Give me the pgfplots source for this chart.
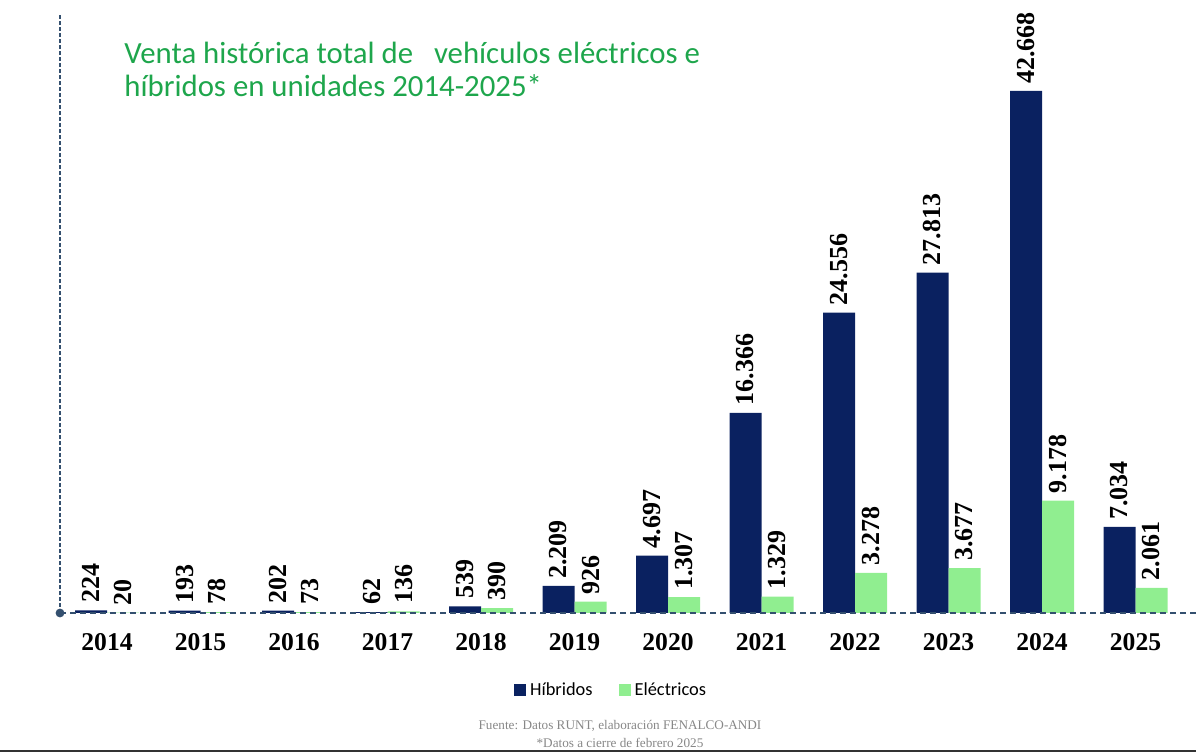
\documentclass[border=0pt]{standalone}
\usepackage{pgfplots}
\pgfplotsset{compat=1.18}
\usepackage{fontspec}
\setmainfont{Liberation Serif}
\newfontfamily\carlito{Carlito}
\definecolor{navy}{RGB}{10,33,96}
\definecolor{lgreen}{RGB}{144,238,144}
\definecolor{tgreen}{RGB}{30,166,76}
\definecolor{axcol}{RGB}{52,80,111}
\definecolor{foot}{RGB}{135,135,135}
\pgfplotstableread{
x hib ele
0 224 20
1 193 78
2 202 73
3 62 136
4 539 390
5 2209 926
6 4697 1307
7 16366 1329
8 24556 3278
9 27813 3677
10 42668 9178
11 7034 2061
}\datatable
\begin{document}
\begin{tikzpicture}[x=0.5pt,y=0.5pt]
\useasboundingbox (0,0) rectangle (1196,754);
\begin{axis}[
  at={(30pt,70.5pt)}, anchor=south west,
  scale only axis, width=568pt, height=299pt,
  ybar=0pt, bar width=16pt,
  xmin=-0.503, xmax=11.647, ymin=0, ymax=48881,
  axis x line*=bottom, axis y line=none,
  x axis line style={draw=none},
  xtick=data, xtick style={draw=none},
  xticklabels={2014,2015,2016,2017,2018,2019,2020,2021,2022,2023,2024,2025},
  xticklabel style={font=\fontsize{12.8}{14}\selectfont\bfseries, yshift=-2.5pt},
  ytick=\empty,
  nodes near coords,
  every node near coord/.append style={rotate=90, anchor=west, inner sep=3.5pt,
     font=\fontsize{13}{14}\selectfont\bfseries, text=black},
  /pgf/number format/fixed, /pgf/number format/precision=0,
  /pgf/number format/1000 sep={.},
  /pgf/number format/assume math mode=true,
  legend columns=2,
  legend style={at={(0.486,-0.129)}, anchor=center, draw=none, fill=none,
     font=\carlito\fontsize{9.2}{11}\selectfont,
     /tikz/every even column/.append style={column sep=11pt}},
  legend image code/.code={\fill[#1] (0pt,-3pt) rectangle (6pt,3pt);},
]
\addplot[fill=navy, draw=none] table[x=x,y=hib]{\datatable};
\addplot[fill=lgreen, draw=none] table[x=x,y=ele]{\datatable};
\legend{Híbridos, Eléctricos}
\end{axis}
\draw[axcol, line width=0.8pt, dash pattern=on 3pt off 2pt] (60,141) -- (1196,141);
\draw[axcol, line width=0.7pt, dash pattern=on 2pt off 1pt] (60,141) -- (60,739);
\fill[axcol] (60,141) circle (2.2pt);
\node[anchor=north west, inner sep=0pt, align=left, text=tgreen,
  font=\carlito\fontsize{15.4}{16.5}\selectfont] at (124,712)
  {Venta histórica total de\ \ \ vehículos eléctricos e\\híbridos en unidades 2014-2025*};
\node[text=foot, font=\fontsize{6.6}{9}\selectfont, align=center] at (620,20)
  {Fuente: Datos RUNT, elaboración FENALCO-ANDI\\*Datos a cierre de febrero 2025};
\draw[black!80, line width=1pt] (0,3) -- (1196,3);
\end{tikzpicture}
\end{document}
